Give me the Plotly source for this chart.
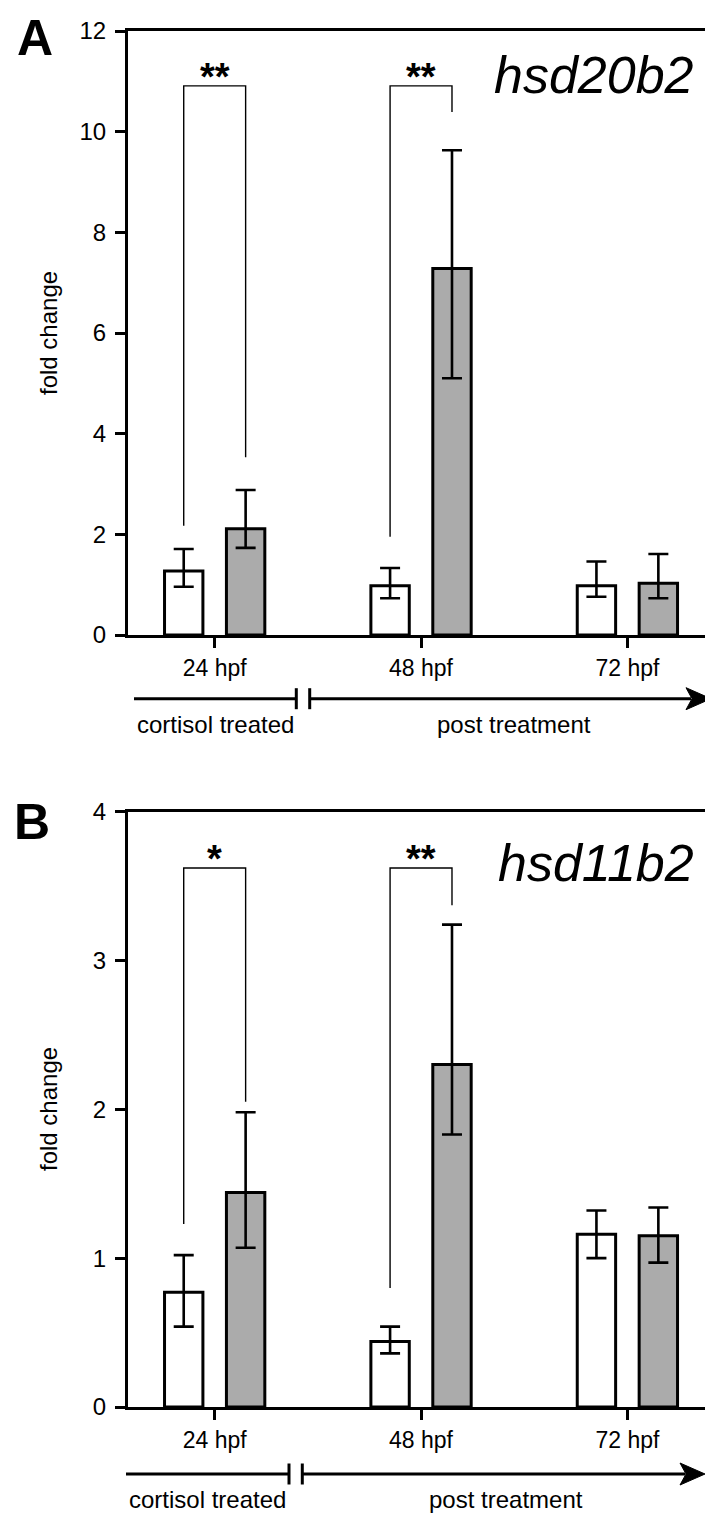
import plotly.graph_objects as go

W, H = 713, 1514
FONT = "Liberation Sans, Arial, sans-serif"

# x categories
timepoints = ["24 hpf", "48 hpf", "72 hpf"]
cat_pos = [0, 1, 2]

# panel A: hsd20b2
a_ctrl = [1.27, 0.98, 0.98]
a_ctrl_hi = [1.71, 1.33, 1.46]
a_ctrl_lo = [0.96, 0.73, 0.76]
a_cort = [2.11, 7.28, 1.03]
a_cort_hi = [2.88, 9.63, 1.61]
a_cort_lo = [1.73, 5.10, 0.73]
# significance brackets (category index, top, left end, right end, stars)
a_sig_idx = [0, 1]
a_sig_top = [10.91, 10.91]
a_sig_left = [2.17, 1.95]
a_sig_right = [3.53, 10.39]
a_sig_stars = ["**", "**"]

# panel B: hsd11b2
b_ctrl = [0.77, 0.44, 1.16]
b_ctrl_hi = [1.02, 0.54, 1.32]
b_ctrl_lo = [0.54, 0.36, 1.00]
b_cort = [1.44, 2.30, 1.15]
b_cort_hi = [1.98, 3.24, 1.34]
b_cort_lo = [1.07, 1.83, 0.97]
b_sig_idx = [0, 1]
b_sig_top = [3.62, 3.62]
b_sig_left = [1.23, 0.80]
b_sig_right = [2.05, 3.37]
b_sig_stars = ["*", "**"]

OFF = 0.15      # offset of each bar from category centre
BW = 0.186      # bar width


def px(x):
    return x / W


def py(y):
    return 1 - y / H


fig = go.Figure()


def add_panel(n, ctrl, chi, clo, cort, ohi, olo):
    xa, ya = ("x", "y") if n == 1 else ("x%d" % n, "y%d" % n)
    fig.add_trace(go.Bar(
        x=[c - OFF for c in cat_pos], y=ctrl, width=BW, xaxis=xa, yaxis=ya,
        marker=dict(color="white", line=dict(color="black", width=3)),
        error_y=dict(type="data", symmetric=False,
                     array=[h - v for h, v in zip(chi, ctrl)],
                     arrayminus=[v - l for l, v in zip(clo, ctrl)],
                     color="black", thickness=2.6, width=10),
        showlegend=False))
    fig.add_trace(go.Bar(
        x=[c + OFF for c in cat_pos], y=cort, width=BW, xaxis=xa, yaxis=ya,
        marker=dict(color="#ababab", line=dict(color="black", width=3)),
        error_y=dict(type="data", symmetric=False,
                     array=[h - v for h, v in zip(ohi, cort)],
                     arrayminus=[v - l for l, v in zip(olo, cort)],
                     color="black", thickness=2.6, width=10),
        showlegend=False))


def add_brackets(n, idx, top, left, right, stars):
    xr, yr = ("x", "y") if n == 1 else ("x%d" % n, "y%d" % n)
    for i, t, l, r, s in zip(idx, top, left, right, stars):
        x0, x1 = cat_pos[i] - OFF, cat_pos[i] + OFF
        fig.add_shape(type="path", xref=xr, yref=yr,
                      path=f"M {x0},{l} L {x0},{t} L {x1},{t} L {x1},{r}",
                      line=dict(color="black", width=1.4))
        fig.add_annotation(x=cat_pos[i], y=t, xref=xr, yref=yr,
                           text=f"<b>{s}</b>", showarrow=False,
                           xanchor="center", yanchor="middle", yshift=9,
                           font=dict(family=FONT, size=38, color="black"))


add_panel(1, a_ctrl, a_ctrl_hi, a_ctrl_lo, a_cort, a_cort_hi, a_cort_lo)
add_panel(2, b_ctrl, b_ctrl_hi, b_ctrl_lo, b_cort, b_cort_hi, b_cort_lo)
add_brackets(1, a_sig_idx, a_sig_top, a_sig_left, a_sig_right, a_sig_stars)
add_brackets(2, b_sig_idx, b_sig_top, b_sig_left, b_sig_right, b_sig_stars)

xcommon = dict(range=[-0.42, 2.41], tickvals=cat_pos, ticktext=timepoints,
               showline=True, linewidth=3, linecolor="black", mirror=True,
               ticks="outside", ticklen=10, tickwidth=3, tickcolor="black",
               showgrid=False, zeroline=False, automargin=False,
               tickfont=dict(family=FONT, size=23, color="black"))
ycommon = dict(showline=True, linewidth=3, linecolor="black", mirror=True,
               ticks="outside", ticklen=10, tickwidth=3, tickcolor="black",
               showgrid=False, zeroline=False, ticklabelstandoff=4,
               automargin=False,
               tickfont=dict(family=FONT, size=24, color="black"))

fig.update_layout(
    width=W, height=H, margin=dict(l=0, r=0, t=0, b=0, pad=0),
    autosize=False,
    paper_bgcolor="white", plot_bgcolor="white",
    barmode="overlay",
    xaxis=dict(domain=[px(120), px(704)], anchor="y", **xcommon),
    yaxis=dict(domain=[py(627), py(23)], anchor="x", range=[0, 12],
               dtick=2, **ycommon),
    xaxis2=dict(domain=[px(120), px(704)], anchor="y2", **xcommon),
    yaxis2=dict(domain=[py(1399), py(803.5)], anchor="x2", range=[0, 4],
                dtick=1, **ycommon),
)


def label(x, y, text, size, **kw):
    fig.add_annotation(x=px(x), y=py(y), xref="paper", yref="paper",
                       text=text, showarrow=False,
                       xanchor=kw.pop("xanchor", "center"), yanchor="middle",
                       font=dict(family=FONT, size=size, color="black"), **kw)


# panel letters, gene names, y titles
label(27, 30, "<b>A</b>", 50)
label(24, 814, "<b>B</b>", 50)
label(688, 67, "<i>hsd20b2</i>", 52, xanchor="right")
label(688, 855, "<i>hsd11b2</i>", 52, xanchor="right")
label(40, 325, "fold change", 24, textangle=-90)
label(40, 1101, "fold change", 24, textangle=-90)

# treatment timeline under each panel
for ly, x_start, b1, b2, x_tip, ty, c1, c2 in [
        (690.7, 126, 288.3, 301.7, 703, 716.7, 207, 506),
        (1466, 118, 281, 294.3, 697, 1491.7, 199, 498)]:
    line = dict(color="black", width=3)
    fig.add_shape(type="line", xref="paper", yref="paper",
                  x0=px(x_start), x1=px(b1), y0=py(ly), y1=py(ly), line=line)
    fig.add_shape(type="line", xref="paper", yref="paper",
                  x0=px(b2), x1=px(x_tip - 20), y0=py(ly), y1=py(ly), line=line)
    for bx in (b1, b2):
        fig.add_shape(type="line", xref="paper", yref="paper",
                      x0=px(bx), x1=px(bx), y0=py(ly - 10.5), y1=py(ly + 10.5),
                      line=line)
    fig.add_shape(type="path", xref="paper", yref="paper",
                  path=(f"M {px(x_tip - 25)},{py(ly - 11)} L {px(x_tip)},{py(ly)} "
                        f"L {px(x_tip - 25)},{py(ly + 11)} L {px(x_tip - 19)},{py(ly)} Z"),
                  fillcolor="black", line=dict(color="black", width=1))
    label(c1, ty, "cortisol treated", 24)
    label(c2, ty, "post treatment", 24)

fig.write_html("out.html")
